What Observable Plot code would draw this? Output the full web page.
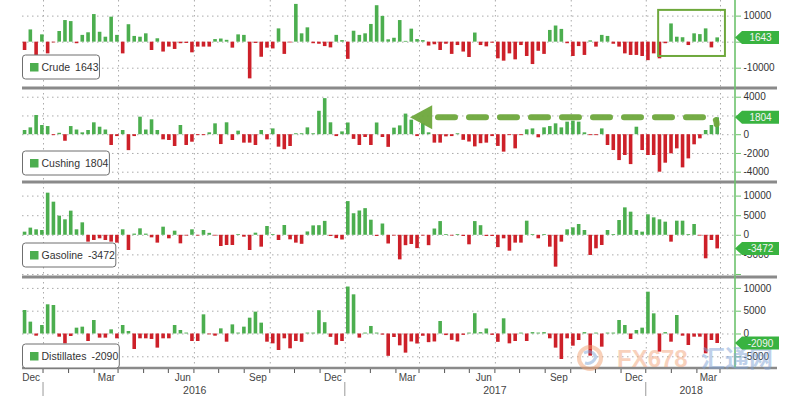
<!DOCTYPE html>
<html>
<head>
<meta charset="utf-8">
<script src="https://cdn.jsdelivr.net/npm/d3@7"></script>
<script src="https://cdn.jsdelivr.net/npm/@observablehq/plot@0.6"></script>
<style>
html,body{margin:0;padding:0;background:#fff;}
#chart{position:relative;width:800px;height:400px;overflow:hidden;background:#fff;font-family:"Liberation Sans",Arial,sans-serif;}
#chart svg{position:absolute;left:0;}
</style>
</head>
<body>
<div id="chart"></div>
<script>
// ---------------- data ----------------
const seriesNames = ["Crude", "Cushing", "Gasoline", "Distillates"];
const firstWeek = "2015-11-08";
const crude = [
  -3200,4700,-5100,2800,-4500,-300,4100,8300,7900,-600,
  2600,3600,10600,3800,1900,9600,2600,-4500,6700,2200,
  1900,3200,-3200,1300,-3800,-1900,-2800,-600,-500,-4100,
  -1900,-1900,-1900,1000,1200,700,-2300,2800,2600,-14100,
  -500,-5800,-2300,-2600,5100,-4700,-300,14500,3200,5500,
  -600,-800,-1700,-2200,2600,600,-6600,4200,2600,3200,
  6800,14000,9900,900,1500,8300,300,5000,1000,600,
  -1500,-1000,-3200,-800,-4700,-1300,-3800,-5900,3500,-1300,
  -1800,-400,-6400,-7300,-4500,-6800,-1300,-5500,-8600,-3500,
  -4700,4500,6200,4900,-600,-5500,-1700,-5100,500,-1900,
  2600,2200,-800,-1900,-4500,-5100,-5100,-5500,-7100,-4500,
  -6400,-600,7000,1900,1700,-1300,3200,2900,5100,-2200,
  1643];
const cushing = [
  450,730,2050,980,870,-100,150,-700,870,500,
  200,450,1270,800,500,-1150,-200,450,-1700,-200,
  1870,500,1590,450,-550,-620,-1260,980,-1150,-800,
  -100,-100,200,1160,-1050,1270,-620,380,-900,-900,
  -1150,450,-550,620,-1330,-1600,-1260,100,100,730,
  100,2500,3850,1270,-200,300,1250,-500,-1150,-300,
  -1150,1250,-300,-1350,700,940,2200,1550,-200,1200,
  200,-900,-900,-230,-200,100,-600,-780,-1300,-960,
  -900,-200,-1250,-1860,-100,-1510,-100,520,620,-330,
  730,870,1160,730,1340,1450,1340,200,-100,-100,
  620,-1150,-1690,-2760,-2220,-3190,800,-1690,-2220,-2220,
  -4000,-3040,-2040,-1510,-3540,-2580,-1080,-440,450,980,
  1804];
const gasoline = [
  800,1830,1400,1220,10750,8450,4880,3950,6160,1400,
  3180,-1750,-1330,-900,-1330,-1750,-2000,1400,-3880,300,
  1650,300,-650,-2000,2070,-900,1050,-2180,-200,1400,
  -200,1220,500,-200,-2860,-2600,-2600,200,-480,-3880,
  540,-3030,2240,200,-1330,2500,-1160,-2000,-2300,850,
  2400,2450,3550,-300,-850,-1200,8600,5500,6200,6800,
  3850,-300,2880,-2220,-200,-6270,-2650,-2350,-3400,-200,
  -2650,1600,3500,200,-200,200,-300,-2430,3500,2450,
  -300,-300,-3150,-900,-4050,-2000,-2000,3600,200,-900,
  200,-3030,-8130,-1750,1400,1900,2760,1220,-5140,-3450,
  -2600,1220,200,3770,7000,5900,1220,800,5220,4450,
  3950,3350,-1750,3600,3600,200,2760,-200,-6000,-1330,
  -3472];
const distillates = [
  5150,2600,-480,1860,6400,6250,-700,-2160,-550,1280,
  1500,-1650,2960,-910,-910,910,-1060,1860,550,-3400,
  -1060,-1060,-1200,-3100,-1060,-1060,1860,770,200,-1650,
  -1650,4200,-200,-480,1130,-1800,2000,200,1500,3470,
  4790,2380,-1800,-2160,-3620,-1060,-3250,-1650,-1830,200,
  200,5100,2480,-740,-2480,-1650,10300,8590,-910,200,
  1650,200,-250,-4900,-770,-2600,-4200,-1750,-2200,-500,
  -1900,-1750,2740,-350,-1400,-1750,-300,200,4450,300,
  1100,-300,-1830,3330,-2160,-1650,200,-1650,300,200,
  300,-1060,-3100,-5590,-1060,-2670,-1430,300,-4860,200,
  -2890,200,200,2960,1860,-1200,770,1280,9170,4420,
  -3980,300,-1800,4060,-480,-2520,-700,-700,-4350,-1430,
  -2090];
const lastValues = [1643, 1804, -3472, -2090];
const crudeTicks = [10000, 0, -10000];
const crudeLabels = [10000, -10000];
const cushingTicks = [4000, 2000, 0, -2000, -4000];
const cushingLabels = [4000, 0, -2000, -4000];
const gasolineTicks = [10000, 5000, 0, -5000, -10000];
const gasolineLabels = [10000, 5000, 0, -5000];
const distillatesTicks = [10000, 5000, 0, -5000];
const quarterTicks = ["2015-12-01","2016-03-01","2016-06-01","2016-09-01","2016-12-01",
  "2017-03-01","2017-06-01","2017-09-01","2017-12-01","2018-03-01"];
const yearLabels = ["2016", "2017", "2018"];
const yearLabelDates = ["2016-06-02", "2017-06-01", "2018-01-25"];
const yearBreaks = ["2015-12-01", "2016-12-01", "2017-12-01"];
const watermark = ["FX678", "汇通网"];

// ---------------- drawing ----------------
const GREEN = "#4cae4f", RED = "#cd2029", AXIS_GREEN = "#6dc26d", GRID = "#ababab",
      SEP = "#8a8a8a", BADGE = "#39b340", ANNOT = "#6ea83c";
const weeks = crude.map((_, i) => d3.utcDay.offset(new Date(firstWeek), 7 * i));
const quarterDates = quarterTicks.map(d => new Date(d));
const xDomain = [new Date("2015-11-05T12:00:00Z"), new Date("2018-03-19T05:00:00Z")];

const panels = [
  {name: seriesNames[0], values: crude, last: lastValues[0], top: 0, height: 88, mb: 0,
   domain: [-17800, 16000], ticks: crudeTicks, labeled: crudeLabels, boxTop: 55},
  {name: seriesNames[1], values: cushing, last: lastValues[1], top: 88, height: 94, mb: 0,
   domain: [-5100, 4930], ticks: cushingTicks, labeled: cushingLabels, boxTop: 151},
  {name: seriesNames[2], values: gasoline, last: lastValues[2], top: 182, height: 95, mb: 0,
   domain: [-10770, 13470], ticks: gasolineTicks, labeled: gasolineLabels, boxTop: 243},
  {name: seriesNames[3], values: distillates, last: lastValues[3], top: 277, height: 123, mb: 32,
   domain: [-7570, 12390], ticks: distillatesTicks, labeled: distillatesTicks, boxTop: 344}
];

const root = document.getElementById("chart");
const built = panels.map(pn => {
  const rows = pn.values.map((v, i) => ({date: weeks[i], value: v}));
  const labeled = new Set(pn.labeled);
  const svg = Plot.plot({
    width: 800, height: pn.height,
    marginLeft: 22, marginRight: 65, marginTop: 0, marginBottom: pn.mb,
    style: {background: "transparent", overflow: "visible", fontFamily: "'Liberation Sans', Arial, sans-serif", fontSize: "10px"},
    x: {type: "utc", domain: xDomain, axis: null},
    y: {domain: pn.domain, axis: null},
    marks: [
      Plot.ruleY(pn.ticks, {stroke: GRID, strokeDasharray: "1.5,3.5"}),
      Plot.ruleX(quarterDates, {stroke: GRID, strokeDasharray: "1.5,3.5"}),
      Plot.ruleX(rows.filter(d => d.value >= 0), {x: "date", y1: 0, y2: "value", stroke: GREEN, strokeWidth: 3.6}),
      Plot.ruleX(rows.filter(d => d.value < 0), {x: "date", y1: 0, y2: "value", stroke: RED, strokeWidth: 3.6}),
      Plot.axisY({anchor: "right", label: null, ticks: pn.ticks, tickSize: 5, tickPadding: 3,
        tickFormat: d => labeled.has(d) ? String(d) : "", stroke: AXIS_GREEN, fill: "#333", fontSize: 10})
    ]
  });
  svg.style.top = pn.top + "px";
  root.appendChild(svg);
  return {pn, x: svg.scale("x"), y: svg.scale("y")};
});

const ov = d3.select(root).append("svg")
  .attr("width", 800).attr("height", 400).style("top", "0px")
  .style("font-family", "'Liberation Sans', Arial, sans-serif");

// annotation: box around recent crude builds
{
  const b = built[0];
  const x1 = b.x.apply(new Date("2017-12-16")), x2 = b.x.apply(new Date("2018-03-07"));
  const y1 = b.pn.top + b.y.apply(12200), y2 = b.pn.top + b.y.apply(-5500);
  ov.append("rect").attr("x", x1).attr("y", y1).attr("width", x2 - x1).attr("height", y2 - y1)
    .attr("fill", "none").attr("stroke", ANNOT).attr("stroke-width", 2);
}
// annotation: dashed arrow in Cushing panel
{
  const b = built[1];
  const ay = b.pn.top + b.y.apply(b.pn.last);
  const xTip = b.x.apply(new Date("2017-02-18")), xBase = b.x.apply(new Date("2017-03-17"));
  const xs = b.x.apply(new Date("2017-03-24")), xe = b.x.apply(new Date("2018-02-25"));
  ov.append("path")
    .attr("d", `M${xs},${ay} H${xe - 6} Q${xe},${ay} ${xe},${ay + 7}`)
    .attr("fill", "none").attr("stroke", ANNOT).attr("stroke-width", 6)
    .attr("stroke-dasharray", "17,14").attr("stroke-linecap", "round").attr("opacity", 0.95);
  ov.append("path")
    .attr("d", `M${xTip},${ay} L${xBase},${ay - 12} L${xBase},${ay + 12} Z`)
    .attr("fill", ANNOT).attr("opacity", 0.95);
}

// separators between panels and bottom axis line
built.forEach(b => {
  const yb = b.pn.top + b.pn.height - b.pn.mb;
  ov.append("line").attr("x1", 22).attr("x2", 777).attr("y1", yb).attr("y2", yb)
    .attr("stroke", SEP).attr("stroke-width", b.pn.mb ? 2.5 : 3);
});
// right axis line
ov.append("line").attr("x1", 735).attr("x2", 735).attr("y1", 0).attr("y2", 368)
  .attr("stroke", AXIS_GREEN).attr("stroke-width", 1.6);

// watermark (semi-transparent, under the badges)
{
  const wm = ov.append("g").attr("opacity", 0.5);
  wm.append("circle").attr("cx", 590).attr("cy", 358).attr("r", 11)
    .attr("fill", "none").attr("stroke", "#f2a273").attr("stroke-width", 4);
  wm.append("path").attr("d", "M584,353 Q592,349 596,357 Q592,365 585,363")
    .attr("fill", "none").attr("stroke", "#7fa6d8").attr("stroke-width", 3);
  wm.append("text").attr("x", 617).attr("y", 367).attr("font-size", 24).attr("font-weight", "bold")
    .attr("fill", "#f3a57c").text(watermark[0]);
  wm.append("text").attr("x", 701).attr("y", 367).attr("font-size", 24).attr("font-weight", "bold")
    .attr("font-family", "'Noto Sans CJK SC', sans-serif")
    .attr("fill", "#7fa3d6").text(watermark[1]);
}

// badges with last value and legend boxes
built.forEach(b => {
  const cy = b.pn.top + b.y.apply(b.pn.last);
  ov.append("path")
    .attr("d", `M735,${cy} L742,${cy - 6.5} L779,${cy - 6.5} L779,${cy + 6.5} L742,${cy + 6.5} Z`)
    .attr("fill", BADGE);
  ov.append("text").attr("x", 760.5).attr("y", cy).attr("dy", "0.35em")
    .attr("text-anchor", "middle").attr("fill", "#f4f4f4").attr("font-size", 10)
    .text(String(b.pn.last));

  const g = ov.append("g");
  const rect = g.append("rect").attr("x", 22.5).attr("y", b.pn.boxTop).attr("height", 24)
    .attr("rx", 3).attr("fill", "#fff").attr("stroke", "#6f6f6f").attr("stroke-width", 1);
  g.append("rect").attr("x", 30).attr("y", b.pn.boxTop + 8).attr("width", 8.5).attr("height", 8.5)
    .attr("fill", GREEN);
  const t = g.append("text").attr("x", 41.5).attr("y", b.pn.boxTop + 12.5).attr("dy", "0.35em")
    .attr("font-size", 10.5).attr("fill", "#333");
  t.append("tspan").text(b.pn.name);
  t.append("tspan").attr("dx", 5).text(String(b.pn.last));
  const tw = t.node().getComputedTextLength();
  rect.attr("width", 41.5 + tw + 6 - 22.5);
});

// bottom time axis
{
  const b = built[3];
  const months = d3.utcMonth.range(new Date("2015-12-01"), new Date("2018-03-20"));
  months.forEach(m => {
    const x = b.x.apply(m);
    ov.append("line").attr("x1", x).attr("x2", x).attr("y1", 369).attr("y2", 373)
      .attr("stroke", "#555").attr("stroke-width", 1);
  });
  quarterDates.forEach(d => {
    ov.append("text").attr("x", b.x.apply(d) - 3).attr("y", 380.5)
      .attr("text-anchor", "end").attr("font-size", 10).attr("fill", "#444")
      .text(d3.utcFormat("%b")(d));
  });
  yearBreaks.forEach(d => {
    const x = b.x.apply(new Date(d));
    ov.append("line").attr("x1", x).attr("x2", x).attr("y1", 382).attr("y2", 396)
      .attr("stroke", "#999").attr("stroke-width", 1);
  });
  yearLabels.forEach((s, i) => {
    ov.append("text").attr("x", b.x.apply(new Date(yearLabelDates[i]))).attr("y", 394)
      .attr("text-anchor", "middle").attr("font-size", 10.5).attr("fill", "#444").text(s);
  });
}
</script>
</body>
</html>
